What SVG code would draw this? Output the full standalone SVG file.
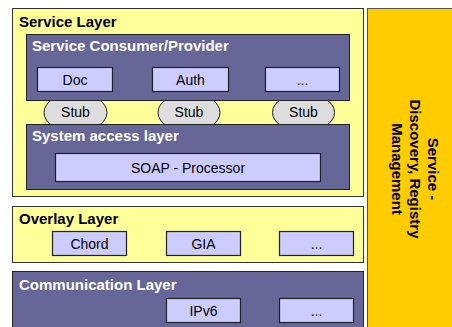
<svg xmlns="http://www.w3.org/2000/svg" width="452" height="327" viewBox="0 0 452 327">
<style>
.yl{fill:#FFFF99;stroke:#333;stroke-width:1}
.pu{fill:#666699;stroke:#222;stroke-width:1}
.lv{fill:#CCCCFF;stroke:#222;stroke-width:1.2}
.st{fill:#DDDDDD;stroke:#222;stroke-width:1}
.or{fill:#FFCC00;stroke:#555;stroke-width:1}
.h{font-family:"Liberation Sans",Arial,sans-serif;font-size:15px;font-weight:bold}
.hb{fill:#000}
.hw{fill:#fff}
.t{font-family:"Liberation Sans",Arial,sans-serif;font-size:14px;fill:#000;text-anchor:middle}
</style>
<rect width="452" height="327" fill="#fff"/>
<g id="service-layer">
<rect class="yl" x="12.5" y="8.5" width="351" height="188"/>
<text class="h hb" x="19" y="27">Service Layer</text>
</g>
<g id="stubs">
<g id="stub1"><ellipse class="st" cx="75.5" cy="112.5" rx="31.5" ry="19.5"/><text class="t" x="75.5" y="117">Stub</text></g>
<g id="stub2"><ellipse class="st" cx="189" cy="112.5" rx="31" ry="19.5"/><text class="t" x="189" y="117">Stub</text></g>
<g id="stub3"><ellipse class="st" cx="303.5" cy="112.5" rx="31" ry="19.5"/><text class="t" x="303.5" y="117">Stub</text></g>
</g>
<g id="consumer-provider">
<rect class="pu" x="26.5" y="34.5" width="323" height="66"/>
<text class="h hw" x="32" y="51">Service Consumer/Provider</text>
</g>
<g id="doc"><rect class="lv" x="37.5" y="67.5" width="75" height="24"/><text class="t" x="75" y="85">Doc</text></g>
<g id="auth"><rect class="lv" x="152.5" y="67.5" width="76" height="24"/><text class="t" x="190.5" y="85">Auth</text></g>
<g id="more1"><rect class="lv" x="265.5" y="67.5" width="74" height="24"/><text class="t" x="302.5" y="85">...</text></g>
<g id="system-access">
<rect class="pu" x="26.5" y="124.5" width="323" height="65"/>
<text class="h hw" x="32" y="141">System access layer</text>
</g>
<g id="soap"><rect class="lv" x="55.5" y="153.5" width="265" height="28"/><text class="t" x="188" y="172.5">SOAP - Processor</text></g>
<g id="overlay-layer">
<rect class="yl" x="12.5" y="206.5" width="351" height="56"/>
<text class="h hb" x="19" y="224">Overlay Layer</text>
</g>
<g id="chord"><rect class="lv" x="52.5" y="231.5" width="74" height="24"/><text class="t" x="89.5" y="248.5">Chord</text></g>
<g id="gia"><rect class="lv" x="166.5" y="231.5" width="74" height="24"/><text class="t" x="203.5" y="248.5">GIA</text></g>
<g id="more2"><rect class="lv" x="279.5" y="231.5" width="74" height="24"/><text class="t" x="316.5" y="248.5">...</text></g>
<g id="communication-layer">
<rect class="pu" x="12.5" y="271.5" width="351" height="70"/>
<text class="h hw" x="19" y="290">Communication Layer</text>
</g>
<g id="ipv6"><rect class="lv" x="166.5" y="298.5" width="74" height="24"/><text class="t" x="203.5" y="316">IPv6</text></g>
<g id="more3"><rect class="lv" x="279.5" y="298.5" width="74" height="24"/><text class="t" x="316.5" y="316">...</text></g>
<g id="discovery">
<rect class="or" x="367.5" y="8.5" width="90" height="330"/>
<g transform="translate(434,169) rotate(90)">
<text class="h hb" text-anchor="middle" x="0" y="6">Service -</text>
<text class="h hb" text-anchor="middle" x="0" y="24">Discovery, Registry</text>
<text class="h hb" text-anchor="middle" x="0" y="42">Management</text>
</g>
</g>
<g id="connectors"/>
</svg>
